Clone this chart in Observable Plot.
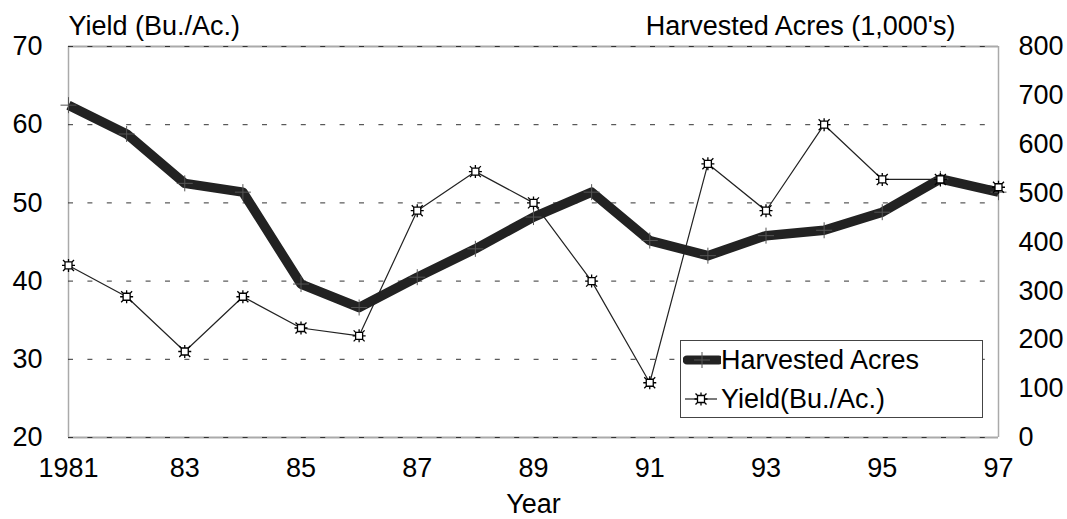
<!DOCTYPE html>
<html><head><meta charset="utf-8">
<script src="https://cdn.jsdelivr.net/npm/d3@7"></script>
<script src="https://cdn.jsdelivr.net/npm/@observablehq/plot@0.6"></script>
<style>
body{margin:0;background:#fff;}
#wrap{position:relative;width:1067px;height:519px;font-family:"Liberation Sans",Arial,sans-serif;overflow:hidden;}
#legend{position:absolute;left:680px;top:340px;width:301px;height:76px;border:1.5px solid #444;background:#fff;}
#legend .row{position:absolute;left:2px;height:30px;display:flex;align-items:center;font-size:27px;color:#000;}
#legend svg{display:block;}
</style></head><body><div id="wrap"></div>
<script>
const years = [1981,1982,1983,1984,1985,1986,1987,1988,1989,1990,1991,1992,1993,1994,1995,1996,1997];
const yieldVals = [42,38,31,38,34,33,49,54,50,40,27,55,49,60,53,53,52];
const acresVals = [680,621,520,502,314,266,328,386,451,502,403,372,413,424,461,529,502];
const yTicks = [20,30,40,50,60,70];
const acresTicks = [0,100,200,300,400,500,600,700,800];
const xTicks = [1981,1983,1985,1987,1989,1991,1993,1995,1997];
const xLabels = ["1981","83","85","87","89","91","93","95","97"];
const seriesNames = ["Harvested Acres","Yield(Bu./Ac.)"];
const leftTitle = "Yield (Bu./Ac.)";
const rightTitle = "Harvested Acres (1,000's)";
const xTitle = "Year";

const acresToY = a => 20 + a / 16;
const yToAcres = v => Math.round((v - 20) * 16);
const data = years.map((yr, i) => ({year: yr, yield: yieldVals[i], acres: acresVals[i], acresY: acresToY(acresVals[i])}));

const sun = {draw(ctx) {
  const s = 3.5, e = 6.5;
  ctx.moveTo(-s, -s); ctx.lineTo(s, -s); ctx.lineTo(s, s); ctx.lineTo(-s, s); ctx.closePath();
  ctx.moveTo(0, -e); ctx.lineTo(0, -s); ctx.moveTo(0, s); ctx.lineTo(0, e);
  ctx.moveTo(-e, 0); ctx.lineTo(-s, 0); ctx.moveTo(s, 0); ctx.lineTo(e, 0);
  ctx.moveTo(-s, -s); ctx.lineTo(-s - 2, -s - 2); ctx.moveTo(s, -s); ctx.lineTo(s + 2, -s - 2);
  ctx.moveTo(s, s); ctx.lineTo(s + 2, s + 2); ctx.moveTo(-s, s); ctx.lineTo(-s - 2, s + 2);
}};
const plus = {draw(ctx) {
  const e = 8;
  ctx.moveTo(0, -e); ctx.lineTo(0, e); ctx.moveTo(-e, 0); ctx.lineTo(e, 0);
}};

const font = '"Liberation Sans", Arial, sans-serif';
const chart = Plot.plot({
  width: 1067, height: 519,
  marginTop: 46, marginBottom: 82, marginLeft: 68, marginRight: 69,
  style: {fontFamily: font, fontSize: "27px", color: "#000", background: "#fff"},
  x: {domain: [1981, 1997]},
  y: {domain: [20, 70]},
  marks: [
    Plot.ruleY([20, 70], {stroke: "#aaa", strokeWidth: 2}),
    Plot.ruleX([1981, 1997], {stroke: "#aaa", strokeWidth: 1.5}),
    Plot.ruleY(yTicks, {stroke: "#333", strokeWidth: 1, strokeDasharray: "5,14.4"}),
    Plot.axisY({ticks: yTicks, tickSize: 0, tickPadding: 26, label: null, fontSize: 27}),
    Plot.axisY({anchor: "right", ticks: acresTicks.map(acresToY), tickFormat: yToAcres, tickSize: 0, tickPadding: 20, label: null, fontSize: 27}),
    Plot.axisX({ticks: xTicks, tickFormat: (d, i) => xLabels[i], tickSize: 0, tickPadding: 20, label: null, fontSize: 27}),
    Plot.line(data, {x: "year", y: "acresY", stroke: "#222", strokeWidth: 9.5, strokeLinecap: "butt", strokeLinejoin: "round"}),
    Plot.dot(data, {x: "year", y: "acresY", symbol: plus, stroke: "#555", strokeWidth: 1, r: 4}),
    Plot.line(data, {x: "year", y: "yield", stroke: "#222", strokeWidth: 1.2}),
    Plot.dot(data, {x: "year", y: "yield", symbol: sun, fill: "#fff", stroke: "#000", strokeWidth: 1.3, r: 4}),
    Plot.text([leftTitle], {frameAnchor: "top-left", textAnchor: "start", lineAnchor: "bottom", dy: -12, fontSize: 27}),
    Plot.text([rightTitle], {frameAnchor: "top-right", textAnchor: "end", lineAnchor: "bottom", dx: -43, dy: -12, fontSize: 27}),
    Plot.text([xTitle], {frameAnchor: "bottom", lineAnchor: "bottom", dy: 75, fontSize: 27})
  ]
});
const wrap = document.getElementById("wrap");
wrap.appendChild(chart);

// legend overlay
const legend = d3.select(wrap).append("div").attr("id", "legend");
seriesNames.forEach((name, i) => {
  const row = legend.append("div").attr("class", "row").style("top", (i === 0 ? 4 : 43) + "px");
  const svg = row.append("svg").attr("width", 38).attr("height", 30);
  if (i === 0) {
    svg.append("line").attr("x1", 4).attr("x2", 36).attr("y1", 15).attr("y2", 15)
      .attr("stroke", "#222").attr("stroke-width", 9).attr("stroke-linecap", "round");
    svg.append("path").attr("d", "M19,7V23M11,15H27").attr("stroke", "#555").attr("fill", "none");
  } else {
    svg.append("line").attr("x1", 2).attr("x2", 34).attr("y1", 15).attr("y2", 15)
      .attr("stroke", "#222").attr("stroke-width", 1.2);
    svg.append("path").attr("transform", "translate(18,15)")
      .attr("d", d3.symbol(sun)()).attr("fill", "#fff").attr("stroke", "#000").attr("stroke-width", 1.3);
  }
  row.append("span").text(name);
});
</script>
</body></html>
